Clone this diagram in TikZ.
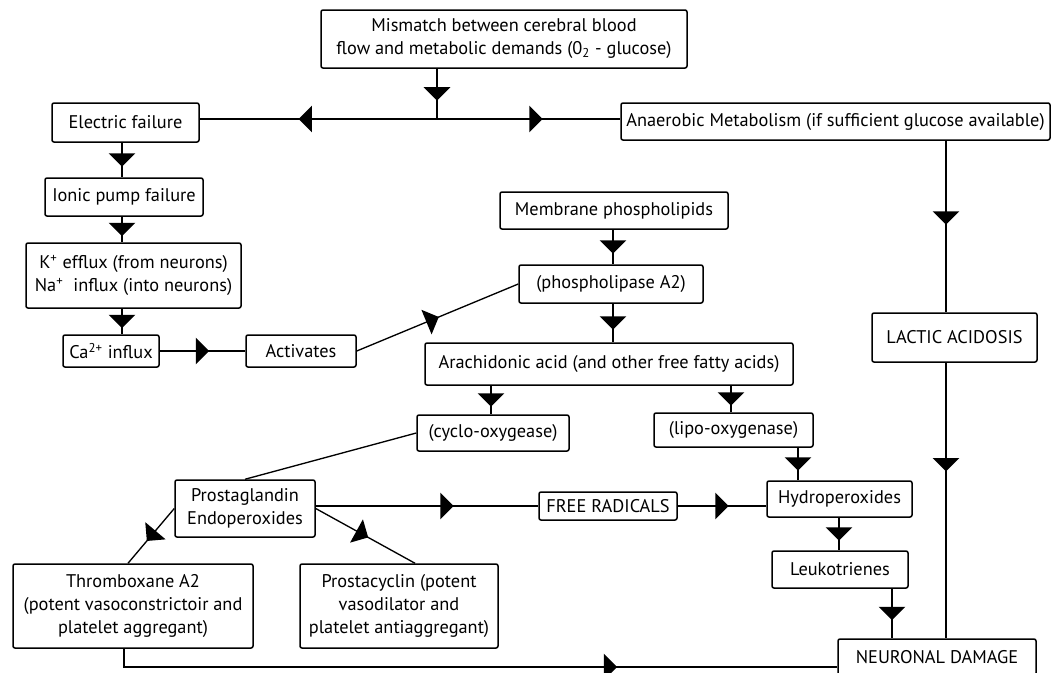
\documentclass[tikz,border=0pt]{standalone}
\usepackage{fontspec}
\setmainfont{PT Sans}
\usetikzlibrary{decorations.markings}

\tikzset{>=latex}
\tikzset{
  box/.style={draw, rounded corners=1.2pt, line width=0.9pt, inner sep=1pt,
    align=center, font=\fontsize{11}{13.8}\selectfont},
  wh/.style 2 args={minimum width=#1*0.6pt, minimum height=#2*0.6pt},
  link/.style={line width=0.8pt},
  flow/.style={link, postaction={decorate}, decoration={markings,
    mark=at position #1 with {\fill (4pt,0) -- (-4pt,8pt) -- (-4pt,-8pt) -- cycle;}}},
  flow/.default=0.5
}

\begin{document}
\begin{tikzpicture}[x=0.6pt,y=-0.6pt]
  \useasboundingbox (0,0) rectangle (1051,672);
  % boxes
  \node[box,wh={366}{58}] (mismatch) at (504,39) {Mismatch between cerebral blood\\flow and metabolic demands (0\textsubscript{2} - glucose)};
  \node[box,wh={147}{39}] (elec) at (125.5,122.5) {Electric failure};
  \node[box,wh={429}{37}] (anaer) at (835.5,121.5) {Anaerobic Metabolism (if sufficient glucose available)};
  \node[box,wh={158}{38}] (ionic) at (124,197) {Ionic pump failure};
  \node[box,wh={215}{65}] (kef) at (133.5,275.5) {K\textsuperscript{+} efflux (from neurons)\\Na\textsuperscript{+}\ \ influx (into neurons)};
  \node[box,wh={96}{32}] (ca) at (111,351) {Ca\textsuperscript{2+} influx};
  \node[box,wh={110}{32}] (activ) at (301,351) {Activates};
  \node[box,wh={228}{37}] (membrane) at (614,210.5) {Membrane phospholipids};
  \node[box,wh={184}{38}] (phos) at (611,284) {(phospholipase A2)};
  \node[box,wh={368}{42}] (arach) at (609,364) {Arachidonic acid (and other free fatty acids)};
  \node[box,wh={165}{49}] (lactic) at (954.5,337.5) {LACTIC ACIDOSIS};
  \node[box,wh={152}{36}] (cyclo) at (493,433) {(cyclo-oxygease)};
  \node[box,wh={159}{34}] (lipo) at (733.5,430) {(lipo-oxygenase)};
  \node[box,wh={140}{57}] (prost) at (245,508.5) {Prostaglandin\\Endoperoxides};
  \node[box,wh={138}{28}] (freerad) at (608,506) {FREE RADICALS};
  \node[box,wh={145}{36}] (hydro) at (839.5,499) {Hydroperoxides};
  \node[box,wh={136}{37}] (leuko) at (840,569.5) {Leukotrienes};
  \node[box,wh={240}{84}] (thromb) at (133,606) {Thromboxane A2\\(potent vasoconstrictoir and\\platelet aggregant)};
  \node[box,wh={198}{84}] (prostac) at (399,606) {Prostacyclin (potent\\vasodilator and\\platelet antiaggregant)};
  \node[box,wh={198}{36}] (neuron) at (937,657) {NEURONAL DAMAGE};

  % connectors
  \coordinate (split) at (437,119);
  \draw[flow] (mismatch.south -| split) -- (split);
  \draw[flow=0.555] (split) -- (elec.east |- split);
  \draw[flow=0.54] (split) -- (anaer.west |- split);
  \foreach \a/\b/\x in {elec/ionic/122, ionic/kef/122, kef/ca/122,
      membrane/phos/613, phos/arach/613, arach/cyclo/491, arach/lipo/731,
      lipo/hydro/798, hydro/leuko/839, leuko/neuron/892}
    \draw[flow] (\a.south -| \x,0) -- (\b.north -| \x,0);
  \draw[flow=0.45] (anaer.south -| 946,0) -- (lactic.north -| 946,0);
  \draw[flow=0.37] (lactic.south -| 946,0) -- (neuron.north -| 946,0);
  \draw[flow] (ca) -- (activ);
  \draw[flow=0.47] (activ.east) -- (phos.west);
  \draw[link] (cyclo.west) -- (prost.north);
  \draw[flow=0.59] (prost.east |- freerad.west) -- (freerad.west);
  \draw[flow] (freerad.east) -- (hydro.west |- freerad.east);
  \draw[flow] (prost.west) -- (thromb.north -| 128,0);
  \draw[flow=0.47] (prost.east) -- (prostac.north -| 415,0);
  \coordinate (tb) at (124,667);
  \draw[flow=0.69] (thromb.south -| tb) -- (tb) -- (neuron.west |- tb);
\end{tikzpicture}
\end{document}
